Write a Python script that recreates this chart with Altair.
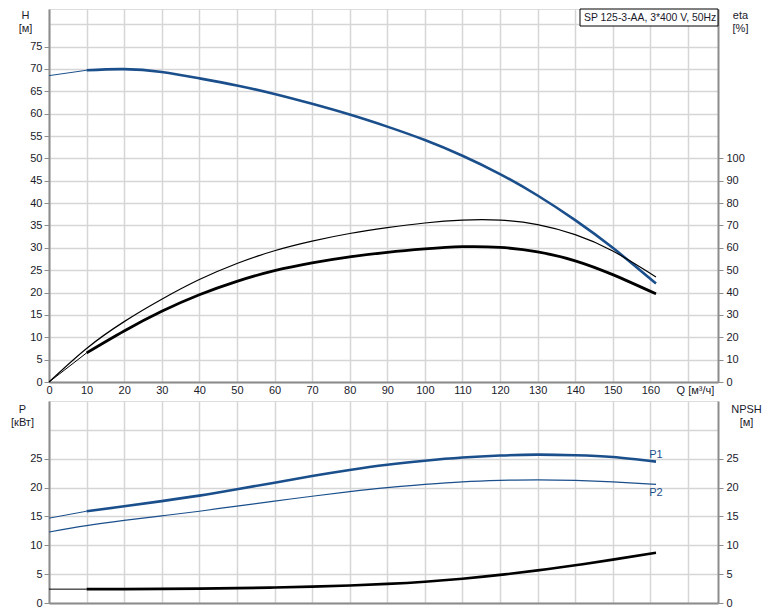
import altair as alt
import pandas as pd

# ---- data ----
q_h = [0, 10, 20, 30, 40, 50, 60, 70, 80, 90, 100, 110, 120, 130, 140, 150, 161.5]
h_vals = [68.5, 69.7, 69.95, 69.3, 67.9, 66.3, 64.4, 62.2, 59.8, 57.1, 54.1, 50.6, 46.5, 41.7, 36.2, 30.0, 22.0]

q_eta = [0, 10, 20, 30, 40, 50, 60, 70, 80, 90, 100, 110, 120, 130, 140, 150, 161.5]
eta_thin = [0, 15.0, 27.0, 37.0, 45.8, 53.0, 58.7, 63.0, 66.4, 69.0, 71.1, 72.4, 72.4, 70.4, 65.9, 58.6, 47.0]
eta_thick = [0, 13.0, 22.8, 31.6, 39.0, 45.0, 49.8, 53.3, 56.0, 58.0, 59.5, 60.5, 60.2, 58.2, 54.2, 48.0, 39.4]

q_p = [0, 10, 20, 30, 40, 50, 60, 70, 80, 90, 100, 110, 120, 130, 140, 150, 161.5]
p1_vals = [14.7, 15.9, 16.75, 17.65, 18.6, 19.7, 20.85, 22.0, 23.05, 23.95, 24.65, 25.2, 25.55, 25.7, 25.6, 25.3, 24.5]
p2_vals = [12.3, 13.4, 14.3, 15.1, 15.9, 16.8, 17.65, 18.5, 19.3, 20.0, 20.55, 21.0, 21.25, 21.35, 21.25, 21.0, 20.55]
npsh_vals = [2.4, 2.4, 2.41, 2.44, 2.49, 2.57, 2.68, 2.83, 3.03, 3.31, 3.69, 4.21, 4.87, 5.65, 6.53, 7.51, 8.71]

x_ticks = list(range(0, 180, 10))
h_ticks = list(range(0, 85, 5))
eta_ticks = list(range(0, 110, 10))
p_ticks = list(range(0, 35, 5))
npsh_ticks = list(range(0, 30, 5))

label_names = ["P1", "P2"]
label_q = [161.5, 161.5]
label_v = [25.6, 19.1]

model_text = "SP 125-3-AA, 3*400 V, 50Hz"

BLUE = "#1a4f8c"
GRID = "#d6d6d6"
AXIS = "#8c8c8c"
TXT = "#1a1a2a"
FONT = "Liberation Sans"
W = 669
Q_DOM = [0, 178]
INTERP = "natural"


def split(qs, vs, name, thin_to=10, thick=2.6, thin=1.0):
    rows = []
    for q, v in zip(qs, vs):
        if q <= thin_to:
            rows.append({"q": q, "v": v, "s": name + "_a", "w": thin})
        if q >= thin_to:
            rows.append({"q": q, "v": v, "s": name + "_b", "w": thick})
    return rows


def full(qs, vs, name, w):
    return [{"q": q, "v": v, "s": name, "w": w} for q, v in zip(qs, vs)]


h_df = pd.DataFrame(split(q_h, h_vals, "H"))
eta_df = pd.DataFrame(full(q_eta, eta_thin, "eta1", 1.2) + split(q_eta, eta_thick, "eta2", thick=2.8))
p_df = pd.DataFrame(split(q_p, p1_vals, "P1", thick=2.6) + full(q_p, p2_vals, "P2", 1.2))
n_df = pd.DataFrame(split(q_p, npsh_vals, "N", thick=2.6))
lab_df = pd.DataFrame({"q": label_q, "v": label_v, "t": label_names})

axis_common = dict(
    labelFont=FONT, labelFontSize=11, labelColor=TXT,
    titleFont=FONT, titleFontSize=11, titleColor=TXT, titleFontWeight="normal",
    domainColor=AXIS, domainWidth=2, tickColor=AXIS,
)

x_top = alt.X(
    "q:Q",
    scale=alt.Scale(domain=Q_DOM, nice=False, zero=False),
    axis=alt.Axis(
        values=x_ticks, grid=True, gridColor=GRID, gridWidth=1.5, ticks=False,
        labelExpr="datum.value == 170 ? 'Q [м³/ч]' : datum.label",
        labelFlush=False, labelOverlap=False, labelPadding=2,
        labelOffset={"condition": {"test": "datum.value == 170", "value": 7}, "value": 0},
        title=None, **axis_common,
    ),
)
x_bot = alt.X(
    "q:Q",
    scale=alt.Scale(domain=Q_DOM, nice=False, zero=False),
    axis=alt.Axis(values=x_ticks, grid=True, gridColor=GRID, gridWidth=1.5, ticks=False,
                  labels=False, title=None, **axis_common),
)

y_h = alt.Y(
    "v:Q",
    scale=alt.Scale(domain=[0, 83.4], nice=False, zero=False),
    axis=alt.Axis(
        values=h_ticks, grid=True, gridColor=GRID, gridWidth=1.5, tickSize=5,
        labelExpr="datum.value <= 75 ? datum.label : ''",
        tickOpacity={"condition": {"test": "datum.value > 75", "value": 0}, "value": 1},
        labelPadding=2, title=["H", "[м]"], titleAngle=0, titleAlign="center",
        titleBaseline="top", titleX=-24, titleY=0, titleLineHeight=13, **axis_common,
    ),
)
y_eta = alt.Y(
    "v:Q",
    scale=alt.Scale(domain=[0, 166.8], nice=False, zero=False),
    axis=alt.Axis(
        orient="right", values=eta_ticks, grid=False, tickSize=5, labelPadding=3,
        title=["eta", "[%]"], titleAngle=0, titleAlign="center", titleBaseline="top",
        titleX=22, titleY=0, titleLineHeight=13, **axis_common,
    ),
)
y_p = alt.Y(
    "v:Q",
    scale=alt.Scale(domain=[0, 35], nice=False, zero=False),
    axis=alt.Axis(
        values=p_ticks, grid=True, gridColor=GRID, gridWidth=1.5, tickSize=5,
        labelExpr="datum.value <= 25 ? datum.label : ''",
        tickOpacity={"condition": {"test": "datum.value > 25", "value": 0}, "value": 1},
        labelPadding=2, title=["P", "[кВт]"], titleAngle=0, titleAlign="center",
        titleBaseline="top", titleX=-27, titleY=2, titleLineHeight=13, **axis_common,
    ),
)
y_n = alt.Y(
    "v:Q",
    scale=alt.Scale(domain=[0, 35], nice=False, zero=False),
    axis=alt.Axis(
        orient="right", values=npsh_ticks, grid=False, tickSize=5, labelPadding=3,
        title=["NPSH", "[м]"], titleAngle=0, titleAlign="center", titleBaseline="top",
        titleX=28, titleY=2, titleLineHeight=13, **axis_common,
    ),
)

sw = alt.StrokeWidth("w:Q", scale=None, legend=None)

h_line = alt.Chart(h_df).mark_line(color=BLUE, interpolate=INTERP).encode(
    x=x_top, y=y_h, detail="s:N", strokeWidth=sw)

box = alt.Chart(pd.DataFrame({"t": [model_text]})).mark_rect(
    fill="white", stroke="black", strokeWidth=1).encode(
    x=alt.value(531), x2=alt.value(669), y=alt.value(0), y2=alt.value(17))
box_text = alt.Chart(pd.DataFrame({"t": [model_text]})).mark_text(
    font=FONT, fontSize=10.4, color=TXT, align="left", baseline="middle").encode(
    x=alt.value(535), y=alt.value(9), text="t:N")

eta_line = alt.Chart(eta_df).mark_line(color="black", interpolate=INTERP).encode(
    x=x_top, y=y_eta, detail="s:N", strokeWidth=sw)

top = alt.layer(alt.layer(h_line, box, box_text), eta_line).resolve_scale(y="independent").properties(
    width=W, height=373)

p_line = alt.Chart(p_df).mark_line(color=BLUE, interpolate=INTERP).encode(
    x=x_bot, y=y_p, detail="s:N", strokeWidth=sw)
p_text = alt.Chart(lab_df).mark_text(font=FONT, fontSize=11, color=BLUE, baseline="middle").encode(
    x=x_bot, y=y_p, text="t:N")
n_line = alt.Chart(n_df).mark_line(color="black", interpolate=INTERP).encode(
    x=x_bot, y=y_n, detail="s:N", strokeWidth=sw)

bottom = alt.layer(alt.layer(p_line, p_text), n_line).resolve_scale(y="independent").properties(
    width=W, height=202)

chart = alt.vconcat(top, bottom, spacing=4).configure_view(stroke=None).configure(
    padding={"left": 2, "top": 0, "right": 0, "bottom": 0}, background="white")

chart.save("out.html", embed_options={"renderer": "svg", "actions": False})
